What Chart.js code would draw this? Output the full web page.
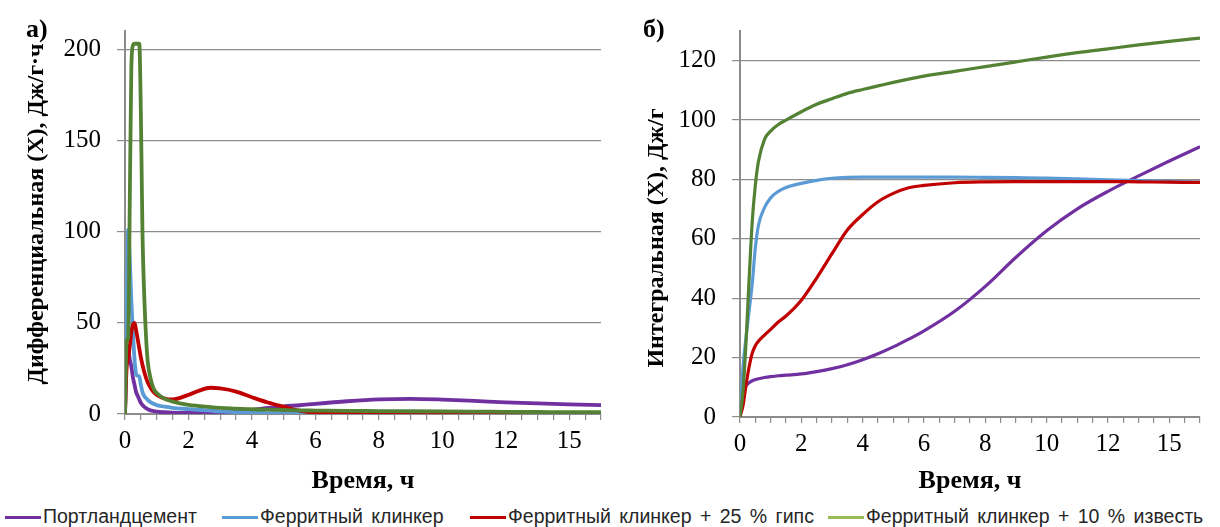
<!DOCTYPE html>
<html lang="ru">
<head>
<meta charset="utf-8">
<title>Тепловыделение</title>
<script src="https://cdn.jsdelivr.net/npm/chart.js@4.4.1/dist/chart.umd.min.js"></script>
<style>
  html, body { margin: 0; padding: 0; background: #fff; }
  #page { position: relative; width: 1220px; height: 527px; overflow: hidden; }
  canvas { position: absolute; top: 0; }
  #diff { left: 0; }
  #integ { left: 615px; }
  .item { position: absolute; top: 505px; font-family: "Liberation Sans", Arial, sans-serif; font-size: 19.5px;
          color: #262626; white-space: nowrap; word-spacing: 3px; line-height: 22px; }
  .item i { display: inline-block; width: 36px; height: 3px; vertical-align: middle; margin-right: 2px; }
</style>
</head>
<body>
<div id="page">
  <canvas id="diff" width="615" height="497"></canvas>
  <canvas id="integ" width="605" height="497"></canvas>
  <div id="legend"></div>
</div>
<script>
const seriesNames = ['Портландцемент', 'Ферритный клинкер', 'Ферритный клинкер + 25 % гипс', 'Ферритный клинкер + 10 % известь'];
const lineColors = ['#7030A0', '#5B9BD5', '#C00000', '#548235'];
const legendColors = ['#7030A0', '#5B9BD5', '#C00000', '#9BBB59'];

// x tick labels (Excel put "15" where 14 is)
const xTickValues = [0, 2, 4, 6, 8, 10, 12, 14];
const xTickText = ['0', '2', '4', '6', '8', '10', '12', '15'];
const diffYTicks = [0, 50, 100, 150, 200];
const intYTicks = [0, 20, 40, 60, 80, 100, 120];

// a) differential, Дж/г·ч
const diffTime = [0, 0.05, 0.1, 0.15, 0.2, 0.25, 0.3, 0.35, 0.4, 0.45, 0.5, 0.55, 0.6, 0.7, 0.8, 0.9, 1,
  1.25, 1.5, 2, 2.7, 3, 3.5, 4, 4.5, 5, 5.5, 6, 7, 8, 9, 10, 11, 12, 13, 14, 15];
const diffPortland = [0, 33, 35, 30, 26, 20, 16, 12, 10, 8, 6, 5, 4, 2.8, 2, 1.6, 1.3,
  1, 0.8, 0.6, 0.6, 0.7, 1.2, 2.3, 3.3, 4.2, 4.8, 5.6, 7, 8, 8.3, 7.9, 7.2, 6.4, 5.8, 5.3, 4.9];
const diffFerrite = [0, 48, 101, 85, 62, 45, 30, 22, 21, 20.5, 16, 12, 10, 8, 6.5, 5.6, 4.9,
  4, 3.4, 2.7, 1.8, 1.4, 1, 0.7, 0.5, 0.3, 0.2, 0.1, 0, 0, 0, 0, 0, 0, 0, 0, 0];
const diffGypsum = [0, 25, 30, 37, 45, 49, 50, 46, 41, 36, 31, 27, 23.5, 18, 14.5, 12, 10.5,
  8.5, 8, 10.5, 14.4, 14, 12.3, 9.2, 6.3, 4, 1.8, 0.7, 0.3, 0.2, 0.2, 0.2, 0.2, 0.2, 0.2, 0.2, 0.2];
const diffLime = [0, 40, 42, 115, 190, 202, 203, 203, 203, 203, 165, 100, 68, 32, 20, 14, 11.5,
  8.3, 6.8, 5, 3.8, 3.4, 3, 2.6, 2.4, 2.2, 2, 1.9, 1.7, 1.6, 1.5, 1.4, 1.3, 1.2, 1.1, 1, 1];

// б) integral, Дж/г
const intTime = [0, 0.1, 0.2, 0.3, 0.4, 0.5, 0.6, 0.8, 1, 1.25, 1.5, 2, 2.5, 3, 3.5, 4, 4.5, 5, 5.5, 6,
  7, 8, 9, 10, 11, 12, 13, 14, 15];
const intPortland = [0, 7.5, 10.5, 11.5, 12.2, 12.6, 12.9, 13.3, 13.6, 13.9, 14.1, 14.5, 15.3, 16.3, 17.6,
  19.3, 21.3, 23.6, 26.2, 29, 35.6, 44, 53.8, 62.7, 70.1, 76, 81.2, 86.2, 91];
const intFerrite = [0, 17, 27, 36, 45, 57, 64.5, 70.5, 73.8, 76, 77.3, 78.7, 79.7, 80.4, 80.7,
  80.8, 80.8, 80.8, 80.8, 80.8, 80.8, 80.7, 80.6, 80.5, 80.2, 79.9, 79.6, 79.3, 79.1];
const intGypsum = [0, 4, 11, 17, 21.5, 24, 25.5, 27.6, 29.5, 32, 34, 39.3, 46.8, 55, 63,
  68.2, 72.5, 75.3, 77.2, 78, 78.9, 79.2, 79.3, 79.3, 79.3, 79.3, 79.2, 79.1, 79];
const intLime = [0, 9, 26, 47, 66, 78, 86, 93.5, 96.3, 98.5, 100, 102.8, 105.3, 107.2, 109,
  110.3, 111.5, 112.7, 113.8, 114.8, 116.4, 118, 119.6, 121.2, 122.7, 124, 125.3, 126.5, 127.6];

const serif = "'Liberation Serif', 'Times New Roman', serif";
const gridGray = '#8c8c8c';
Chart.defaults.font.family = serif;

function pts(t, v) {
  return t.map((x, i) => ({ x: x, y: v[i] }));
}

function makeDatasets(t, lists, width) {
  return lists.map((v, i) => ({
    label: seriesNames[i],
    data: pts(t, v),
    borderColor: lineColors[i],
    backgroundColor: lineColors[i],
    borderWidth: width,
    pointRadius: 0,
    cubicInterpolationMode: 'monotone',
    order: lists.length - i
  }));
}

// rotated y title and panel letter, drawn where Excel put them
function panelText(letter, letterX, yTitle, titleX, titleY) {
  return {
    id: 'panelText',
    afterDraw(chart) {
      const ctx = chart.ctx;
      ctx.save();
      ctx.fillStyle = '#000';
      ctx.font = 'bold 26px ' + serif;
      ctx.textAlign = 'left';
      ctx.textBaseline = 'alphabetic';
      ctx.fillText(letter, letterX, 37);
      ctx.translate(titleX, titleY);
      ctx.rotate(-Math.PI / 2);
      ctx.font = 'bold 24px ' + serif;
      ctx.textAlign = 'center';
      ctx.textBaseline = 'middle';
      ctx.fillText(yTitle, 0, 0);
      ctx.restore();
    }
  };
}

function makeChart(id, datasets, yMax, yTicks, pad, xHeight, plugin) {
  return new Chart(document.getElementById(id), {
    type: 'line',
    data: { datasets: datasets },
    plugins: [plugin],
    options: {
      responsive: false,
      animation: false,
      layout: { padding: pad },
      plugins: { legend: { display: false }, tooltip: { enabled: false } },
      scales: {
        x: {
          type: 'linear',
          min: 0,
          max: 15,
          afterFit: s => { s.height = xHeight; },
          ticks: {
            stepSize: 0.5,
            autoSkip: false,
            maxRotation: 0,
            includeBounds: false,
            padding: 6,
            color: '#000',
            font: { family: serif, size: 25 },
            callback: v => {
              const k = xTickValues.indexOf(v);
              return k >= 0 ? xTickText[k] : '';
            }
          },
          grid: { drawOnChartArea: false, tickLength: 6, color: gridGray, lineWidth: 1.2 },
          border: { color: gridGray, width: 2 },
          title: {
            display: true,
            text: 'Время, ч',
            color: '#000',
            font: { family: serif, size: 26, weight: 'bold' },
            padding: { top: 0, bottom: 0 }
          }
        },
        y: {
          min: 0,
          max: yMax,
          afterFit: s => { s.width = 125; },
          afterBuildTicks: s => { s.ticks = yTicks.map(v => ({ value: v })); },
          ticks: { padding: 16, color: '#000', font: { family: serif, size: 25 } },
          grid: { tickLength: 8, color: gridGray, lineWidth: 1.2 },
          border: { color: gridGray, width: 2 }
        }
      }
    }
  });
}

makeChart('diff',
  makeDatasets(diffTime, [diffPortland, diffFerrite, diffGypsum, diffLime], 3.8),
  210, diffYTicks, { top: 28, right: 14, left: 0, bottom: 0 }, 83,
  panelText('а)', 26, 'Дифференциальная (X), Дж/г·ч', 37, 214));

makeChart('integ',
  makeDatasets(intTime, [intPortland, intFerrite, intGypsum, intLime], 3.2),
  130, intYTicks, { top: 27, right: 20, left: 0, bottom: 0 }, 80,
  panelText('б)', 28, 'Интегральная (X), Дж/г', 42, 238));

// legend
const legendLeft = [5, 222, 470, 828];
const legend = document.getElementById('legend');
seriesNames.forEach((name, i) => {
  const el = document.createElement('div');
  el.className = 'item';
  el.style.left = legendLeft[i] + 'px';
  el.innerHTML = '<i style="background:' + legendColors[i] + '"></i>';
  el.appendChild(document.createTextNode(name));
  legend.appendChild(el);
});
</script>
</body>
</html>
